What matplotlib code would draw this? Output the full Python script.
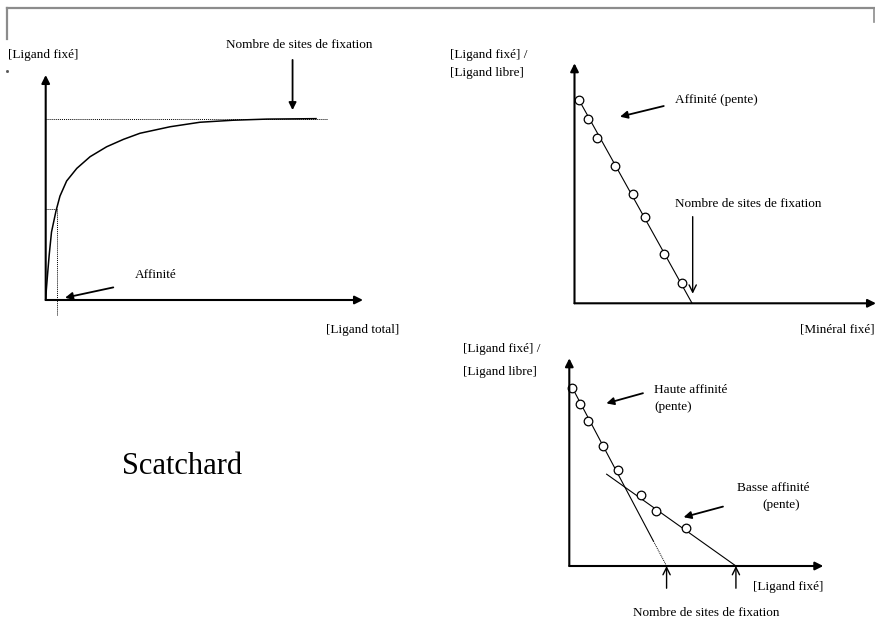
# -*- coding: utf-8 -*-
# Schema de fixation: courbe de saturation + deux representations de Scatchard
import numpy as np
import matplotlib
matplotlib.use('Agg')
import matplotlib.pyplot as plt

plt.rcParams['font.family'] = ['Liberation Serif', 'DejaVu Serif']
plt.rcParams['font.size'] = 9.5

# --- Donnees (unites arbitraires, 0..100 sur chaque axe) ---
# courbe de saturation
sat_x = [0, 0.19, 0.57, 1.1, 1.83, 3.25, 4.5, 6.6, 9.8, 14.0, 19.2, 24.5, 29.7,
         39.2, 48.6, 59.1, 69.7, 85.2]
sat_y = [0, 4.4, 11.1, 20.0, 30.2, 39.6, 46.2, 52.9, 58.5, 63.7, 68.1, 71.4, 74.1,
         77.0, 79.0, 79.9, 80.4, 80.6]
bmax = 80.6
bmax_fin = 88.7
kd = 3.5

# Scatchard, un seul type de site
sc1_x = [1.5, 4.6, 7.6, 13.5, 19.4, 23.5, 29.6, 35.7]
sc1_y = [84.7, 76.8, 69.0, 57.2, 45.4, 36.1, 20.4, 8.6]
sc1_inter = 39.0

# Scatchard, deux types de sites
sc2_x = [1.2, 4.2, 7.4, 13.1, 19.1, 28.1, 34.1, 45.8]
sc2_y = [85.8, 77.9, 70.0, 57.9, 46.2, 34.0, 26.3, 18.4]
haute_inter = 38.3
basse_debut = (14.7, 44.2)
basse_inter = 65.6

W, H = 875, 621
fig = plt.figure(figsize=(W / 100, H / 100), dpi=100)

# calque en pixels pour le cadre et les textes
bg = fig.add_axes([0, 0, 1, 1])
bg.set_xlim(0, W)
bg.set_ylim(H, 0)
bg.axis('off')


def panneau(x0, y_bas, x1, y_haut):
    ax = fig.add_axes([x0 / W, (H - y_bas) / H, (x1 - x0) / W, (y_bas - y_haut) / H])
    ax.set_xlim(0, 100)
    ax.set_ylim(0, 100)
    ax.axis('off')
    ax.patch.set_alpha(0)
    fl = dict(arrowstyle='-|>', lw=1.5, color='black', mutation_scale=12,
              shrinkA=0, shrinkB=0)
    ax.annotate('', xy=(1, 0), xytext=(0, 0), xycoords='axes fraction',
                arrowprops=fl, annotation_clip=False)
    ax.annotate('', xy=(0, 1), xytext=(0, 0), xycoords='axes fraction',
                arrowprops=fl, annotation_clip=False)
    return ax


def fleche(ax, depart, arrivee, ouverte=False):
    if ouverte:
        p = dict(arrowstyle='->', lw=1.0, color='black', mutation_scale=13,
                 shrinkA=0, shrinkB=0)
    else:
        p = dict(arrowstyle='-|>', lw=1.3, color='black', mutation_scale=11,
                 shrinkA=0, shrinkB=0)
    ax.annotate('', xy=arrivee, xytext=depart, arrowprops=p, annotation_clip=False)


# cadre gris en haut
bg.plot([6.5, 875], [8, 8], color='#8c8c8c', lw=1.6)
bg.plot([6.5, 6.5], [8, 39], color='#8c8c8c', lw=1.6)
bg.plot([873.5, 873.5], [8, 22], color='#8c8c8c', lw=1.2)
bg.plot([7], [70.5], marker='s', ms=1, color='#555555')

# ---- Panneau 1 : saturation ----
ax1 = panneau(45.7, 300, 363, 75)
ax1.plot(sat_x, sat_y, color='black', lw=1.1, clip_on=False)
ax1.plot([0, bmax_fin], [bmax, bmax], color='black', lw=0.7, ls=(0, (1, 1)))
ax1.plot([0, kd], [bmax / 2, bmax / 2], color='black', lw=0.7, ls=(0, (1, 1)))
ax1.plot([kd, kd], [bmax / 2, -6.7], color='black', lw=0.7, ls=(0, (1, 1)),
         clip_on=False)
fleche(ax1, (77.8, 106.7), (77.8, 84.4))
fleche(ax1, (21.3, 5.6), (6.1, 1.0))

bg.text(7.5, 55, '[Ligand fixé]', va='center')
bg.text(226, 44.5, 'Nombre de sites de fixation', va='center')
bg.text(135, 275, 'Affinité', va='center')
bg.text(326.5, 330, '[Ligand total]', va='center')

# ---- Panneau 2 : Scatchard simple ----
ax2 = panneau(574.5, 303.3, 876, 63.3)
ax2.plot([sc1_x[0], sc1_inter], [sc1_y[0], 0], color='black', lw=0.8)
ax2.plot(sc1_x, sc1_y, ls='none', marker='o', ms=6.2, mfc='white', mec='black',
         mew=0.9, clip_on=False)
fleche(ax2, (29.6, 82.2), (15.1, 77.75))
fleche(ax2, (39.2, 36.1), (39.2, 4.0), ouverte=True)

bg.text(450.5, 55, '[Ligand fixé] /', va='center')
bg.text(450.5, 73.3, '[Ligand libre]', va='center')
bg.text(675, 100, 'Affinité (pente)', va='center')
bg.text(675, 204, 'Nombre de sites de fixation', va='center')
bg.text(875, 330, '[Minéral fixé]', va='center', ha='right')

# ---- Panneau 3 : Scatchard deux sites ----
ax3 = panneau(569.3, 566, 823.3, 358.3)
# droite haute affinite : trait plein puis pointille jusqu'a l'axe
y_coupe = 12
x_coupe = np.interp(y_coupe, [0, sc2_y[0]], [haute_inter, sc2_x[0]])
ax3.plot([sc2_x[0], x_coupe], [sc2_y[0], y_coupe], color='black', lw=0.8)
ax3.plot([x_coupe, haute_inter], [y_coupe, 0], color='black', lw=0.7,
         ls=(0, (1, 1)))
ax3.plot([basse_debut[0], basse_inter], [basse_debut[1], 0], color='black', lw=0.8)
ax3.plot(sc2_x, sc2_y, ls='none', marker='o', ms=6.2, mfc='white', mec='black',
         mew=0.9, clip_on=False)
fleche(ax3, (29.0, 83.2), (14.6, 78.3))
fleche(ax3, (60.5, 28.6), (45.0, 23.5))
fleche(ax3, (haute_inter, -10.7), (haute_inter, 0), ouverte=True)
fleche(ax3, (basse_inter, -10.7), (basse_inter, 0), ouverte=True)

bg.text(463.3, 349.3, '[Ligand fixé] /', va='center')
bg.text(463.3, 371.7, '[Ligand libre]', va='center')
bg.text(654, 390, 'Haute affinité', va='center')
bg.text(654, 406.7, '(pente)', va='center')
bg.text(737.3, 488.3, 'Basse affinité', va='center')
bg.text(781, 505, '(pente)', va='center', ha='center')
bg.text(823.5, 586.7, '[Ligand fixé]', va='center', ha='right')
bg.text(706, 613.3, 'Nombre de sites de fixation', va='center', ha='center')

bg.text(182.5, 466, 'Scatchard', va='center', ha='center', fontsize=22)

fig.savefig('out.png', dpi=100)
